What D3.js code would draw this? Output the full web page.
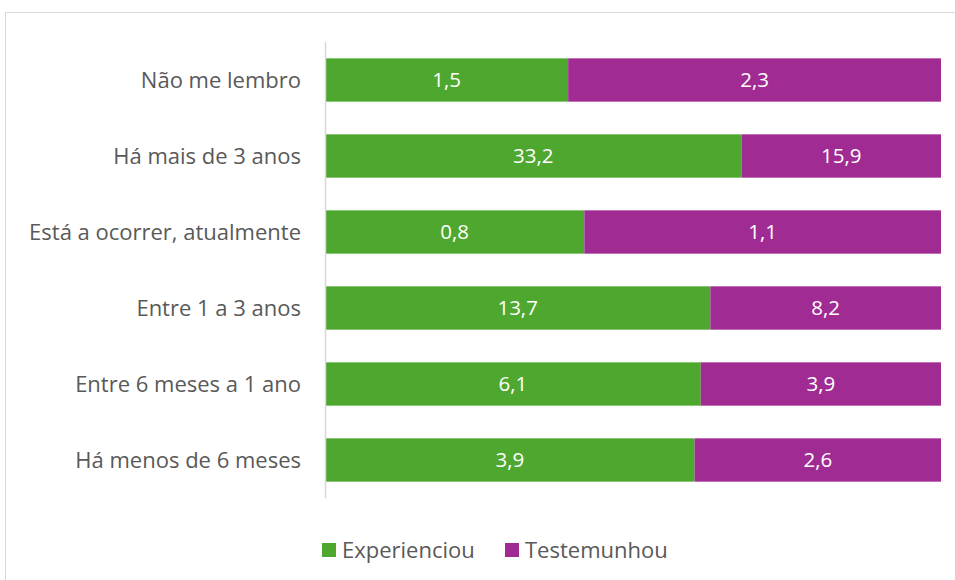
<!DOCTYPE html>
<html><head><meta charset="utf-8">
<script src="https://cdn.jsdelivr.net/npm/d3@7"></script>
<style>body{margin:0;background:#fff}</style>
</head><body>
<svg id="c" width="955" height="580"></svg>
<script>
const categories = ["Não me lembro","Há mais de 3 anos","Está a ocorrer, atualmente","Entre 1 a 3 anos","Entre 6 meses a 1 ano","Há menos de 6 meses"];
const experienciou = [1.5,33.2,0.8,13.7,6.1,3.9];
const testemunhou = [2.3,15.9,1.1,8.2,3.9,2.6];
const seriesNames = ["Experienciou","Testemunhou"];
const colors = ["#4EA72E","#A02B93"];

const svg = d3.select("#c");
const font = "'Open Sans', sans-serif";
svg.append("rect").attr("x",5.5).attr("y",12.5).attr("width",1000).attr("height",1000)
  .attr("fill","#fff").attr("stroke","#d9d9d9").attr("stroke-width",1);

const x = d3.scaleLinear().domain([0,1]).range([325,941]);
const y = d3.scaleBand().domain(categories).range([42,498]).paddingInner(0.43).paddingOuter(0.215);

const fmt = v => String(v).replace(".",",");
categories.forEach((c,i)=>{
  const tot = experienciou[i]+testemunhou[i];
  const parts = [[0,experienciou[i]/tot,experienciou[i]],[experienciou[i]/tot,1,testemunhou[i]]];
  parts.forEach((p,j)=>{
    svg.append("rect").attr("x",x(p[0])).attr("y",y(c)).attr("width",x(p[1])-x(p[0])).attr("height",y.bandwidth()).attr("fill",colors[j]);
    svg.append("text").attr("x",(x(p[0])+x(p[1]))/2).attr("y",y(c)+y.bandwidth()/2).attr("dy","0.36em")
      .attr("text-anchor","middle").attr("fill","#fff").attr("font-family",font).attr("font-size",20.5).text(fmt(p[2]));
  });
  svg.append("text").attr("x",301).attr("y",y(c)+y.bandwidth()/2).attr("dy","0.35em").attr("text-anchor","end")
    .attr("fill","#595959").attr("font-family",font).attr("font-size",22).text(c);
});
svg.append("line").attr("x1",325.5).attr("x2",325.5).attr("y1",42).attr("y2",498).attr("stroke","#d9d9d9").attr("stroke-width",1.5);

const legX = [322,505];
seriesNames.forEach((n,i)=>{
  svg.append("rect").attr("x",legX[i]).attr("y",543).attr("width",14).attr("height",14).attr("fill",colors[i]);
  svg.append("text").attr("x",legX[i]+20).attr("y",550).attr("dy","0.35em").attr("fill","#595959")
    .attr("font-family",font).attr("font-size",22).text(n);
});
</script>
</body></html>
